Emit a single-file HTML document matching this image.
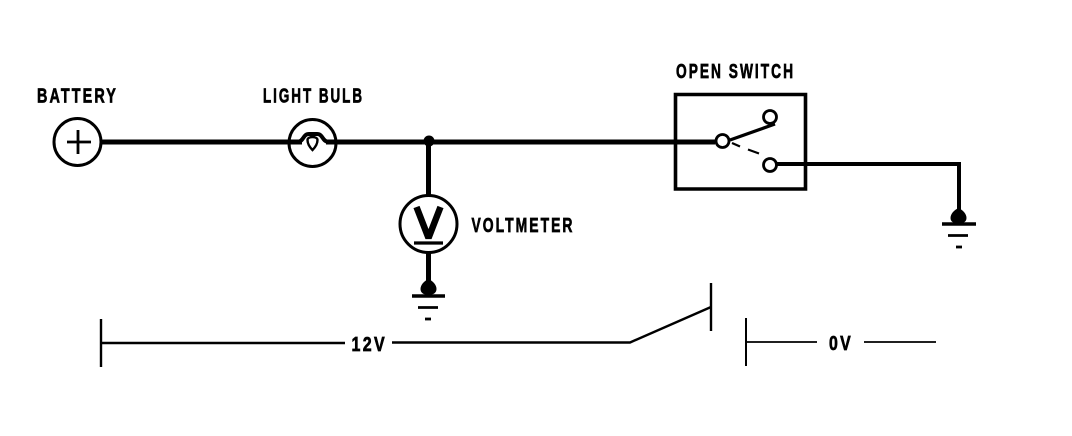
<!DOCTYPE html>
<html>
<head>
<meta charset="utf-8">
<style>
html,body{margin:0;padding:0;background:#fff;width:1072px;height:436px;overflow:hidden}
svg{display:block}
text{font-family:"Liberation Sans",sans-serif;font-weight:bold;font-size:20.5px;letter-spacing:3px;fill:#000;stroke:#000;stroke-width:.7}
</style>
</head>
<body>
<svg width="1072" height="436" viewBox="0 0 1072 436" xmlns="http://www.w3.org/2000/svg">
<rect width="1072" height="436" fill="#fff"/>
<g fill="none" stroke="#000">
  <!-- main wire -->
  <path d="M102 142H302" stroke-width="5"/>
  <path d="M326 142H715" stroke-width="5"/>
  <!-- battery -->
  <circle cx="77.500" cy="142" r="23.500" stroke-width="3"/>
  <path d="M67 142H91M78 130V154" stroke-width="2.800"/>
  <!-- bulb -->
  <circle cx="312.500" cy="143" r="23.500" stroke-width="3"/>
  <path d="M298 142C304 141 303 134 309 134H317C323 134 322 141 328 142" stroke-width="4"/>
  <path d="M307.500 140C307.500 136 317.500 136 317.500 140C317.500 144 314.500 148 312.500 150C310.500 148 307.500 144 307.500 140Z" stroke-width="2.400"/>
  <!-- voltmeter -->
  <path d="M428.500 142V196" stroke-width="5"/>
  <circle cx="428.500" cy="224" r="28.500" stroke-width="3"/>
  <path d="M416.500 207L428.500 238L440.500 207" stroke-width="6.500" stroke-linejoin="bevel"/>
  <path d="M414 243H443" stroke-width="3.200"/>
  <path d="M428.500 253V285" stroke-width="5"/>
  <path d="M412 296H445" stroke-width="3.500"/>
  <path d="M418 307.500H438" stroke-width="2.800"/>
  <path d="M425 319H431" stroke-width="2.800"/>
  <!-- switch -->
  <path d="M675.500 94.500H805.500V189H675.500Z" stroke-width="3.600"/>
  <path d="M730 140L775 124" stroke-width="3.200"/>
  <path d="M732 143L740 146.500M748 149.500L759 153.500" stroke-width="2.200"/>
  <path d="M777 164H959V212" stroke-width="4"/>
  <path d="M942 224H976" stroke-width="3.500"/>
  <path d="M948 235.500H968" stroke-width="2.800"/>
  <path d="M956 247H962" stroke-width="2.800"/>
  <!-- bottom lines -->
  <path d="M101 319V367" stroke-width="2.400"/>
  <path d="M101 343H345" stroke-width="2.400"/>
  <path d="M392 342.500H630L711 307" stroke-width="2.400"/>
  <path d="M711 283V331" stroke-width="2.400"/>
  <path d="M746 318V366" stroke-width="2"/>
  <path d="M746 342H817" stroke-width="1.800"/>
  <path d="M864 342H936" stroke-width="1.800"/>
</g>
<g fill="#fff" stroke="#000" stroke-width="2.800">
  <circle cx="722.500" cy="141" r="6.500"/>
  <circle cx="770" cy="117" r="6.500"/>
  <circle cx="770" cy="165" r="6.500"/>
</g>
<g fill="#000">
  <circle cx="429" cy="141" r="5.500"/>
  <path d="M428.500 279C433 281 436.500 285 436.500 289C436.500 293 433 295 428.500 295C424 295 420.500 293 420.500 289C420.500 285 424 281 428.500 279Z"/>
  <path d="M958.500 208C963 210 966.500 214 966.500 218C966.500 222 963 223.500 958.500 223.500C954 223.500 950.500 222 950.500 218C950.500 214 954 210 958.500 208Z"/>
</g>
<text x="37" y="102.500" textLength="81" lengthAdjust="spacingAndGlyphs">BATTERY</text>
<text x="263" y="102.500" textLength="101" lengthAdjust="spacingAndGlyphs">LIGHT BULB</text>
<text x="471.500" y="232" textLength="103" lengthAdjust="spacingAndGlyphs">VOLTMETER</text>
<text x="676" y="78" textLength="119" lengthAdjust="spacingAndGlyphs">OPEN SWITCH</text>
<text x="351.500" y="351" textLength="35.500" lengthAdjust="spacingAndGlyphs">12V</text>
<text x="829" y="350" textLength="24" lengthAdjust="spacingAndGlyphs">0V</text>
</svg>
</body>
</html>
